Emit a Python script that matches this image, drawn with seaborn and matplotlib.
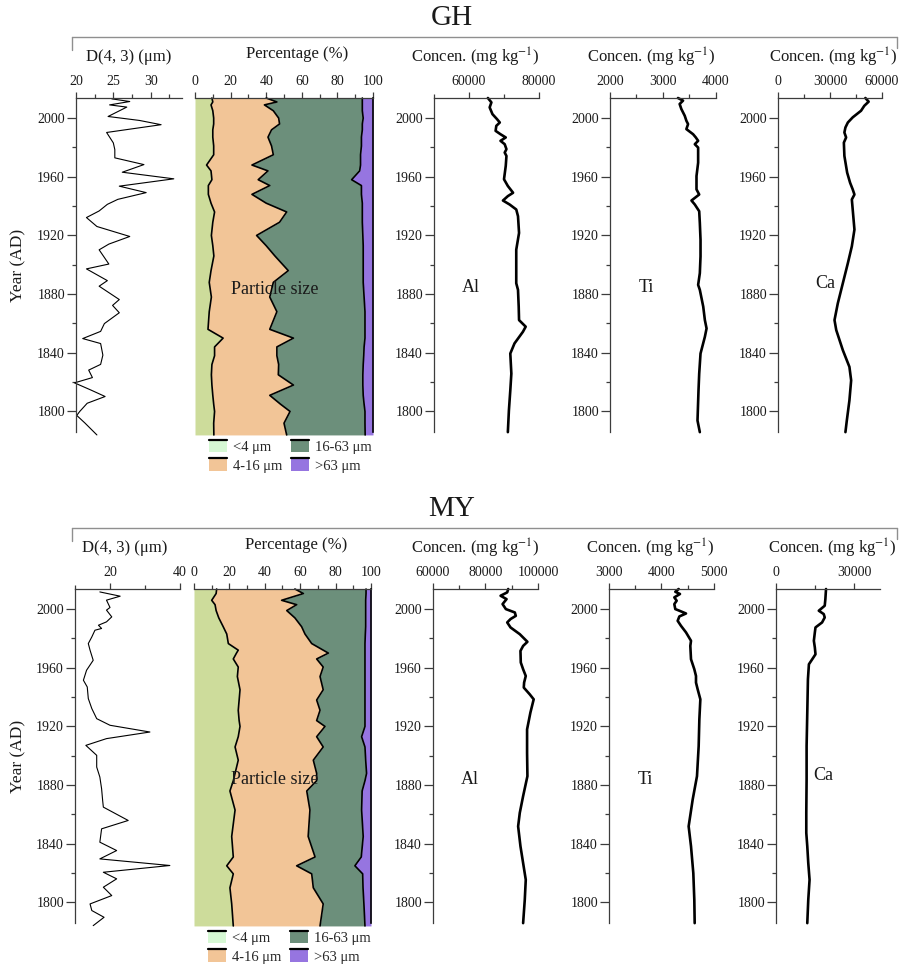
import numpy as np
import pandas as pd
import matplotlib
matplotlib.use("Agg")
import matplotlib.pyplot as plt
import seaborn as sns
from matplotlib.lines import Line2D
from matplotlib.patches import Rectangle, Patch
from matplotlib.legend_handler import HandlerPatch
from matplotlib.ticker import FixedLocator, FuncFormatter

# ---------------- data ----------------
# GH core
gh_d43_year = [2013.1, 2011.3, 2009.0, 2007.5, 2001.1, 1998.4, 1995.5, 1990.2, 1983.1, 1978.5,
               1972.9, 1968.3, 1963.1, 1958.6, 1953.6, 1949.2, 1944.6, 1941.2, 1936.7, 1932.2,
               1926.1, 1919.3, 1914.1, 1910.2, 1900.5, 1897.2, 1889.2, 1885.4, 1876.3, 1872.3,
               1867.3, 1859.9, 1854.6, 1849.7, 1846.3, 1838.4, 1832.1, 1828.2, 1823.1, 1819.5,
               1814.6, 1810.2, 1805.6, 1800.0, 1797.3, 1792.1, 1784.0]
gh_d43 = [24.8, 27.2, 24.5, 26.8, 24.3, 28.5, 31.4, 24.1, 25.0, 25.2,
          25.2, 29.1, 26.2, 33.1, 25.8, 29.4, 25.6, 24.2, 23.1, 21.4,
          22.8, 27.2, 24.4, 23.1, 24.4, 21.4, 24.2, 23.1, 25.8, 24.9,
          25.8, 23.8, 23.3, 20.9, 23.3, 23.6, 23.3, 21.7, 22.2, 19.8,
          22.0, 23.9, 21.5, 20.5, 20.1, 21.2, 22.8]

gh_ps_year = [2013.7, 2011, 2009, 2005, 2000, 1996, 1992, 1987, 1981, 1975, 1968, 1964, 1958,
              1954, 1948, 1942, 1936, 1929, 1920, 1913, 1906, 1896, 1888, 1878, 1868, 1856,
              1850, 1844, 1838, 1832, 1825, 1818, 1811, 1805, 1800, 1792, 1784]
gh_lt4 = [9.5, 10, 9, 10, 10.5, 10.5, 10, 10, 10.5, 10.5, 6.5, 9, 9.5, 7.5, 7.5, 9, 11, 10, 9.2,
          10, 10.6, 9, 8, 9.2, 8, 7.3, 15.8, 11, 11, 9.5, 9.2, 9.5, 10, 10.5, 11, 10.5, 10.6]
gh_lt16 = [40, 46, 39, 44, 47, 47.5, 43, 41, 43, 44, 32, 41, 35.5, 42, 32, 40, 51.5, 47.5, 34.6,
           40, 44.9, 52.4, 44, 42, 46, 42, 55.3, 46, 46, 47, 46.8, 55.3, 42, 48, 53.4, 50, 51.5]
gh_lt63 = [94, 94, 94, 94, 94.5, 94, 94, 93.5, 93.5, 93, 93, 92.5, 88, 93.5, 93.5, 94, 94, 94,
           94.3, 94.5, 94.5, 94.5, 94.5, 95, 95.5, 95.5, 95.5, 95, 94.8, 94.5, 94.3, 94.3, 94.5,
           95, 95.5, 95.5, 95.6]

gh_al_year = [2013.7, 2010.7, 2007.3, 2002.7, 1999.3, 1997.0, 1994.7, 1991.3, 1989.0, 1986.8,
              1984.5, 1982.2, 1978.8, 1976.5, 1974.2, 1967.4, 1958.3, 1953.7, 1949.1, 1946.8,
              1943.8, 1941.1, 1937.7, 1933.1, 1921.7, 1910.3, 1898.9, 1887.4, 1882.9, 1871.5,
              1862.3, 1857.8, 1854.3, 1846.4, 1839.5, 1825.8, 1814.4, 1800.7, 1785.9]
gh_al = [65400, 66400, 65900, 66700, 68000, 68800, 67800, 67600, 69000, 70500,
         69000, 70200, 70700, 70200, 70700, 70500, 70000, 71100, 72600, 71100,
         69700, 71600, 73500, 74000, 74300, 73500, 73500, 73500, 74000, 74200,
         74300, 76200, 75400, 73000, 71800, 72100, 71800, 71400, 71100]

gh_ti_year = [2013.7, 2011.9, 2009.6, 2006.2, 2001.6, 1998.2, 1995.9, 1992.5, 1989.0, 1986.8,
              1984.5, 1982.2, 1979.9, 1976.5, 1969.6, 1960.5, 1951.4, 1947.9, 1943.8, 1941.1,
              1936.5, 1928.5, 1917.1, 1905.7, 1894.3, 1886.3, 1882.9, 1871.5, 1862.3, 1856.6,
              1850.9, 1839.5, 1825.8, 1814.4, 1793.8, 1785.9]
gh_ti = [3283, 3378, 3314, 3346, 3410, 3441, 3473, 3441, 3568, 3619,
         3663, 3600, 3663, 3663, 3663, 3632, 3632, 3683, 3537, 3600,
         3683, 3695, 3708, 3708, 3695, 3663, 3695, 3759, 3790, 3822,
         3790, 3708, 3683, 3670, 3651, 3695]

gh_ca_year = [2013.7, 2011.2, 2008.4, 2005.0, 2000.5, 1997.0, 1993.6, 1990.2, 1986.8, 1983.3,
              1974.2, 1962.8, 1955.9, 1951.4, 1947.9, 1944.5, 1937.7, 1924.0, 1912.6, 1901.1,
              1887.4, 1873.7, 1862.3, 1855.5, 1841.8, 1830.4, 1821.2, 1807.5, 1793.8, 1785.9]
gh_ca = [50400, 52300, 49800, 47900, 43100, 40300, 38900, 38300, 39300, 38000,
         38300, 39900, 41600, 43100, 44100, 42600, 43100, 44100, 42600, 40300,
         37400, 34500, 32600, 33600, 37400, 41200, 42200, 41200, 39700, 38900]

# MY core
my_d43_year = [2011.7, 2008.8, 2006.1, 2001.1, 1999.3, 1994.7, 1991.3, 1989.0, 1986.8, 1985.6,
               1981.0, 1976.5, 1972.0, 1965.1, 1958.3, 1951.5, 1946.9, 1939.0, 1932.2, 1925.3,
               1920.8, 1916.2, 1911.7, 1907.1, 1900.3, 1892.3, 1885.5, 1877.5, 1869.5, 1865.0,
               1855.9, 1850.2, 1841.1, 1835.4, 1829.7, 1825.2, 1820.6, 1816.1, 1810.4, 1804.7,
               1799.0, 1794.5, 1789.9, 1784.2]
my_d43 = [17.1, 22.9, 19.0, 20.0, 19.0, 20.5, 19.0, 16.7, 17.6, 15.7,
          14.8, 13.8, 14.3, 15.2, 13.3, 12.4, 13.5, 13.8, 14.8, 16.2,
          20.0, 31.4, 19.0, 13.1, 16.2, 16.2, 17.1, 17.6, 17.9, 18.1,
          25.2, 17.6, 17.1, 21.9, 17.1, 37.1, 18.1, 21.9, 18.1, 20.5,
          14.3, 14.8, 18.3, 15.2]

my_ps_year = [2013.7, 2010.6, 2006, 2003, 1999, 1994, 1988, 1983, 1976.5, 1972, 1970, 1966,
              1960.5, 1954, 1945, 1938, 1931, 1924, 1920, 1913, 1906, 1897, 1888, 1883, 1876,
              1863, 1845, 1831, 1825, 1819.5, 1810, 1799, 1784]
my_lt4 = [12.8, 12.5, 10, 11.9, 12.5, 14, 16.5, 18.5, 19.4, 25, 24, 22.2, 25, 24.5, 26, 25.5,
          25, 25.5, 26, 25, 23.2, 25, 23.2, 22.2, 20.3, 23.2, 21.3, 22.2, 18.5, 22.2, 20.3,
          21.3, 22.2]
my_lt16 = [57, 61.8, 49.5, 58, 52.4, 57, 60.8, 62.7, 66.5, 73, 75.9, 69.3, 73, 71.2, 73, 69.3,
           71.2, 69.3, 74, 69.3, 73, 67.4, 69.3, 69.3, 63.7, 65.5, 64.5, 68.4, 58, 66.5, 67.4,
           73, 71.2]
my_lt63 = [97.2, 97.2, 97, 97, 97, 97, 97, 96.8, 96.6, 96.6, 96.6, 96.6, 96.6, 96.6, 96.6,
           96.6, 96.6, 96.6, 96.6, 94.7, 96.6, 97, 97.5, 96.6, 95, 94.7, 95.6, 94.5, 90.9, 95.3,
           95.5, 96, 96.6]

my_al_year = [2013.7, 2011.4, 2009.1, 2006.8, 2003.4, 2000.0, 1997.7, 1995.4, 1993.2, 1990.9,
              1987.5, 1982.9, 1977.7, 1974.9, 1971.5, 1963.6, 1959.0, 1954.4, 1949.9, 1946.5,
              1941.9, 1938.5, 1929.4, 1918.0, 1902.0, 1886.1, 1872.5, 1861.1, 1851.9, 1838.3,
              1826.9, 1815.5, 1801.8, 1785.9]
my_al = [88650, 88270, 85740, 88020, 86500, 87760, 91170, 91550, 89530, 88270,
         89530, 93060, 95970, 94330, 93320, 93440, 94330, 95340, 94710, 94580,
         96850, 98360, 97100, 95840, 95840, 95970, 94330, 93060, 92430, 93320,
         94330, 95340, 94960, 94330]

my_ti_year = [2013.7, 2011.8, 2010.3, 2008.0, 2005.7, 2003.4, 2000.0, 1998.9, 1997.0, 1995.0,
              1992.0, 1988.6, 1984.1, 1978.4, 1974.9, 1965.8, 1959.0, 1954.4, 1949.9, 1945.3,
              1938.5, 1924.8, 1906.6, 1886.1, 1870.2, 1851.9, 1838.3, 1820.0, 1801.8, 1785.9]
my_ti = [4327, 4263, 4352, 4244, 4289, 4244, 4263, 4340, 4467, 4340,
         4308, 4371, 4467, 4562, 4549, 4562, 4625, 4657, 4657, 4689,
         4740, 4721, 4708, 4676, 4594, 4517, 4562, 4606, 4625, 4632]

my_ca_year = [2013.7, 2006.8, 2002.3, 1998.9, 1996.6, 1994.3, 1990.9, 1987.5, 1984.1, 1978.4,
              1973.8, 1969.2, 1965.8, 1962.4, 1952.2, 1929.4, 1906.6, 1883.8, 1861.1, 1847.4,
              1838.3, 1826.9, 1815.5, 1801.8, 1785.9]
my_ca = [19240, 18990, 18740, 16460, 18360, 18740, 17720, 15190, 14940, 14560,
         14940, 15190, 13930, 12660, 12280, 12030, 11770, 11770, 11650, 11650,
         12030, 12410, 12910, 12410, 12030]

size_labels = ["<4 \u03bcm", "4-16 \u03bcm", "16-63 \u03bcm", ">63 \u03bcm"]
year_ticks = [1800, 1840, 1880, 1920, 1960, 2000]
year_minor = [1820, 1860, 1900, 1940, 1980]

# ---------------- style ----------------
sns.set_theme(style="ticks")
plt.rcParams["font.family"] = ["Liberation Serif", "DejaVu Serif"]
plt.rcParams["mathtext.fontset"] = "stix"

C_CLAY = "#cddc9b"
C_CLAY_LEG = "#d6f8d4"
C_FSILT = "#f2c597"
C_CSILT = "#6c8f7b"
C_SAND = "#9675e0"
SPINE = "#3c3c3c"
TXT = "#1a1a1a"

W, H = 904, 969
fig = plt.figure(figsize=(W / 100, H / 100), dpi=100)


def box(l, r, t, b):
    return fig.add_axes([l / W, 1 - b / H, (r - l) / W, (b - t) / H])


YLIM = (1786, 2013.7)


def style(ax, xlim, major, minor, left=True):
    ax.set_xlim(*xlim)
    ax.set_ylim(*YLIM)
    ax.set_xlabel("")
    ax.set_ylabel("")
    ax.xaxis.tick_top()
    ax.xaxis.set_major_locator(FixedLocator(major))
    ax.xaxis.set_minor_locator(FixedLocator(minor))
    ax.xaxis.set_major_formatter(FuncFormatter(lambda v, p: f"{v:g}"))
    for s in ["bottom", "right"]:
        ax.spines[s].set_visible(False)
    for s in ["top", "left"]:
        ax.spines[s].set_color(SPINE)
        ax.spines[s].set_linewidth(0.9)
    ax.tick_params(axis="x", which="major", direction="out", length=4.5, width=0.9,
                   color=SPINE, pad=3, labelsize=10, labelcolor=TXT,
                   top=True, bottom=False, labeltop=True, labelbottom=False)
    ax.tick_params(axis="x", which="minor", direction="out", length=3, width=0.9,
                   color=SPINE, top=True, bottom=False)
    if left:
        ax.yaxis.set_major_locator(FixedLocator(year_ticks))
        ax.yaxis.set_minor_locator(FixedLocator(year_minor))
        ax.yaxis.set_major_formatter(FuncFormatter(lambda v, p: f"{v:g}"))
        ax.tick_params(axis="y", which="major", direction="out", length=6.5, width=0.9,
                       color=SPINE, pad=1.5, labelsize=10, labelcolor=TXT)
        ax.tick_params(axis="y", which="minor", direction="out", length=3, width=0.9,
                       color=SPINE)
    else:
        ax.spines["left"].set_visible(False)
        ax.yaxis.set_major_locator(FixedLocator([]))
        ax.yaxis.set_minor_locator(FixedLocator([]))
    ax.patch.set_alpha(0)


def line(ax, x, y, lw):
    df = pd.DataFrame({"v": x, "year": y})
    sns.lineplot(data=df, x="v", y="year", orient="y", estimator=None, sort=True,
                 color="black", lw=lw, ax=ax, clip_on=False)


def particle(ax, years, a, b, c):
    y = np.asarray(years, float)
    a, b, c = (np.asarray(v, float) for v in (a, b, c))
    ax.fill_betweenx(y, 0, a, color=C_CLAY, lw=0, clip_on=False)
    ax.fill_betweenx(y, a, b, color=C_FSILT, lw=0, clip_on=False)
    ax.fill_betweenx(y, b, c, color=C_CSILT, lw=0, clip_on=False)
    ax.fill_betweenx(y, c, 100, color=C_SAND, lw=0, clip_on=False)
    for arr in (a, b, c):
        line(ax, arr, y, 1.2)


class TopLineHandler(HandlerPatch):
    def create_artists(self, legend, orig_handle, xdescent, ydescent, width, height,
                       fontsize, trans):
        rect = Rectangle((-xdescent, -ydescent), width, height,
                         facecolor=orig_handle.get_facecolor(), edgecolor="none",
                         transform=trans)
        top = Line2D([-xdescent, -xdescent + width], [-ydescent + height] * 2,
                     color="black", lw=1.6, transform=trans)
        return [rect, top]


def panel(name, top, bottom, xs, d43, d43_year, d43_lim, d43_major, d43_minor,
          ps_year, lt4, lt16, lt63, elems, title_y, title_x, label_pos, leg_xy):
    # title + bracket
    fig.text(452 / W, 1 - (top - 80) / H, name, ha="center", va="center", fontsize=21, color=TXT)
    by = top - 61
    for seg in ([(72, by), (897, by)], [(72, by), (72, by + 13)], [(897, by), (897, by + 11)]):
        fig.add_artist(Line2D([p[0] / W for p in seg], [1 - p[1] / H for p in seg],
                              transform=fig.transFigure, color="#8f8f8f", lw=1.0))
    fig.text(18 / W, 1 - (top + bottom) / 2 / H, "Year (AD)", rotation=90, ha="center",
             va="center", fontsize=12.5, color=TXT)

    # D(4,3)
    ax = box(xs[0][0], xs[0][1], top, bottom)
    line(ax, d43, d43_year, 0.8)
    style(ax, d43_lim, d43_major, d43_minor)
    fig.text(title_x[0] / W, 1 - title_y / H, "D(4, 3) (\u03bcm)", ha="center", va="center",
             fontsize=12, color=TXT)

    # particle size
    ax = box(xs[1][0], xs[1][1], top, bottom)
    particle(ax, ps_year, lt4, lt16, lt63)
    style(ax, (0, 100), [0, 20, 40, 60, 80, 100], [10, 30, 50, 70, 90], left=False)
    ax.spines["right"].set_visible(True)
    ax.spines["right"].set_color("black")
    ax.spines["right"].set_linewidth(1.2)
    fig.text(title_x[1] / W, 1 - (title_y - 3) / H, "Percentage (%)", ha="center",
             va="center", fontsize=12, color=TXT)
    fig.text(label_pos[0][0] / W, 1 - label_pos[0][1] / H, "Particle size",
             ha="center", va="center", fontsize=13, color=TXT, zorder=10)
    handles = [Patch(facecolor=c) for c in (C_CLAY_LEG, C_FSILT, C_CSILT, C_SAND)]
    fig.legend(handles=handles, labels=size_labels, ncol=2, loc="upper left",
               bbox_to_anchor=(leg_xy[0] / W, 1 - leg_xy[1] / H), frameon=False,
               fontsize=10.5, handlelength=1.25, handleheight=0.9, handletextpad=0.4,
               columnspacing=0.6, labelspacing=0.3, borderpad=0, borderaxespad=0,
               handler_map={Patch: TopLineHandler()})

    # elements
    for (sym, yrs, vals, lim, maj, mnr), (l, r), tx, (lx, ly) in zip(
            elems, xs[2:], title_x[2:], label_pos[1:]):
        ax = box(l, r, top, bottom)
        line(ax, vals, yrs, 1.9)
        style(ax, lim, maj, mnr)
        fig.text(tx / W, 1 - title_y / H, "Concen. (mg kg$^{-1}$)", ha="center",
                 va="center", fontsize=12, color=TXT)
        fig.text(lx / W, 1 - ly / H, sym, ha="center", va="center", fontsize=13, color=TXT)


panel("GH", 98, 432,
      [(76, 182), (195, 373), (434, 539), (610, 716), (778, 882)],
      gh_d43, gh_d43_year, (20, 34.2), [20, 25, 30], [22.5, 27.5, 32.5],
      gh_ps_year, gh_lt4, gh_lt16, gh_lt63,
      [("Al", gh_al_year, gh_al, (50000, 80000), [60000, 80000], [50000, 70000]),
       ("Ti", gh_ti_year, gh_ti, (2000, 4000), [2000, 3000, 4000], [2500, 3500]),
       ("Ca", gh_ca_year, gh_ca, (0, 60000), [0, 30000, 60000], [15000, 45000])],
      57, [129, 297, 475, 651, 833],
      [(275, 289), (471, 288), (646, 288), (825, 284)], (209, 440))

panel("MY", 589, 923,
      [(75, 180), (194, 371), (433, 538), (609, 714), (776, 880)],
      my_d43, my_d43_year, (10, 40), [20, 40], [10, 30],
      my_ps_year, my_lt4, my_lt16, my_lt63,
      [("Al", my_al_year, my_al, (60000, 100000), [60000, 80000, 100000], [70000, 90000]),
       ("Ti", my_ti_year, my_ti, (3000, 5000), [3000, 4000, 5000], [3500, 4500]),
       ("Ca", my_ca_year, my_ca, (0, 40000), [0, 30000], [15000])],
      548, [125, 296, 475, 650, 832],
      [(275, 779), (470, 779), (645, 779), (823, 776)], (208, 931))

fig.savefig("out.png", dpi=100)
